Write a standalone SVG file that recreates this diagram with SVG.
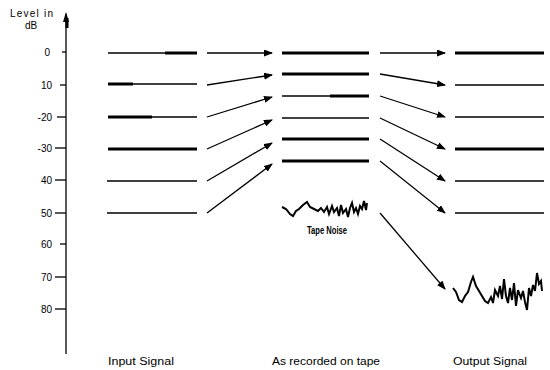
<svg xmlns="http://www.w3.org/2000/svg" width="550" height="370" viewBox="0 0 550 370">
<style>
text{font-family:"Liberation Sans",Arial,sans-serif;font-size:10px;fill:#000}
.thin{stroke:#000;stroke-width:1.3;fill:none}
.thick{stroke:#000;stroke-width:3;fill:none}
.arr{stroke:#000;stroke-width:1.3;fill:none;marker-end:url(#ah)}
.noise{stroke:#000;stroke-width:2;fill:none;stroke-linejoin:miter}
.tick{text-anchor:end}
</style>
<defs>
<marker id="ah" markerWidth="9" markerHeight="7" refX="8" refY="3.5" orient="auto" markerUnits="userSpaceOnUse">
<path d="M0,0 L9,3.5 L0,7 Z" fill="#000"/>
</marker>
</defs>
<rect width="550" height="370" fill="#fff"/>
<g id="axis">
<line class="thin" x1="66" y1="14" x2="66" y2="354"/>
<path d="M66,12 L69,22 L63,22 Z" fill="#000"/>
<line class="thick" x1="67" y1="18" x2="67" y2="28"/>
<text x="10" y="17" font-size="9" textLength="43">Level in</text>
<text x="25" y="29" font-size="9">dB</text>
<g class="thin">
<line x1="62" y1="52" x2="66" y2="52"/>
<line x1="60" y1="85" x2="66" y2="85"/>
<line x1="57" y1="117" x2="66" y2="117"/>
<line x1="55" y1="148" x2="66" y2="148"/>
<line x1="55" y1="180" x2="66" y2="180"/>
<line x1="55" y1="213" x2="66" y2="213"/>
<line x1="60" y1="244" x2="66" y2="244"/>
<line x1="55" y1="277" x2="66" y2="277"/>
<line x1="55" y1="309" x2="66" y2="309"/>
</g>
<text class="tick" x="50" y="56">0</text>
<text class="tick" x="52" y="89">10</text>
<text class="tick" x="52" y="121">-20</text>
<text class="tick" x="52" y="152">-30</text>
<text class="tick" x="52" y="184">40</text>
<text class="tick" x="52" y="217">50</text>
<text class="tick" x="52" y="248">60</text>
<text class="tick" x="52" y="281">70</text>
<text class="tick" x="52" y="313">80</text>
</g>
<g id="input">
<line class="thin" x1="108" y1="53" x2="165" y2="53"/>
<line class="thick" x1="165" y1="53" x2="197" y2="53"/>
<line class="thick" x1="108" y1="84" x2="133" y2="84"/>
<line class="thin" x1="133" y1="84" x2="197" y2="84"/>
<line class="thick" x1="108" y1="117" x2="152" y2="117"/>
<line class="thin" x1="152" y1="117" x2="197" y2="117"/>
<line class="thick" x1="108" y1="149" x2="197" y2="149"/>
<line class="thin" x1="107" y1="181" x2="197" y2="181"/>
<line class="thin" x1="107" y1="213" x2="197" y2="213"/>
<text x="108" y="365" textLength="66" lengthAdjust="spacingAndGlyphs">Input Signal</text>
</g>
<g id="recorded">
<line class="thick" x1="282" y1="53" x2="369" y2="53"/>
<line class="thick" x1="282" y1="74" x2="369" y2="74"/>
<line class="thin" x1="282" y1="96" x2="330" y2="96"/>
<line class="thick" x1="330" y1="96" x2="369" y2="96"/>
<line class="thin" x1="282" y1="118" x2="369" y2="118"/>
<line class="thick" x1="282" y1="139" x2="369" y2="139"/>
<line class="thick" x1="282" y1="161" x2="369" y2="161"/>
<path class="noise" d="M282,207 L286,209 L290,214 L293,216 L296,211 L299,209 L303,205 L307,202 L310,207 L314,209 L318,211 L321,208 L324,212 L327,207 L329,214 L332,206 L334,212 L337,208 L339,216 L341,205 L343,213 L346,209 L348,217 L350,208 L352,203 L354,212 L356,208 L358,214 L360,206 L362,209 L364,201 L366,210 L367,203"/>
<text x="307" y="234" font-size="9" font-weight="bold" textLength="40" lengthAdjust="spacingAndGlyphs">Tape Noise</text>
<text x="272" y="365" textLength="108" lengthAdjust="spacingAndGlyphs">As recorded on tape</text>
</g>
<g id="output">
<line class="thick" x1="455" y1="53" x2="544" y2="53"/>
<line class="thin" x1="455" y1="85" x2="544" y2="85"/>
<line class="thin" x1="455" y1="117" x2="544" y2="117"/>
<line class="thick" x1="455" y1="149" x2="544" y2="149"/>
<line class="thin" x1="455" y1="181" x2="544" y2="181"/>
<line class="thin" x1="455" y1="213" x2="544" y2="213"/>
<path class="noise" stroke-width="2.5" d="M453,288 L456,292 L459,300 L462,302 L465,296 L468,292 L471,282 L473,277 L476,286 L479,291 L482,296 L485,301 L488,303 L491,297 L493,303 L495,290 L498,296 L500,286 L502,299 L504,279 L506,296 L508,303 L510,288 L512,300 L514,283 L516,306 L518,290 L521,298 L523,291 L525,302 L527,310 L529,288 L531,296 L533,285 L535,291 L537,273 L539,284 L541,281 L542,291"/>
<text x="453" y="365" textLength="74" lengthAdjust="spacingAndGlyphs">Output Signal</text>
</g>
<g id="connectors">
<line class="arr" x1="207" y1="53" x2="272" y2="53"/>
<line class="arr" x1="207" y1="85" x2="272" y2="75"/>
<line class="arr" x1="207" y1="117" x2="272" y2="97"/>
<line class="arr" x1="207" y1="149" x2="272" y2="120"/>
<line class="arr" x1="207" y1="181" x2="272" y2="143"/>
<line class="arr" x1="207" y1="213" x2="272" y2="164"/>
<line class="arr" x1="380" y1="53" x2="445" y2="53"/>
<line class="arr" x1="380" y1="74" x2="445" y2="85"/>
<line class="arr" x1="380" y1="96" x2="445" y2="117"/>
<line class="arr" x1="380" y1="118" x2="445" y2="149"/>
<line class="arr" x1="380" y1="139" x2="445" y2="181"/>
<line class="arr" x1="380" y1="161" x2="445" y2="213"/>
<line class="arr" x1="380" y1="213" x2="445" y2="289"/>
</g>
</svg>
